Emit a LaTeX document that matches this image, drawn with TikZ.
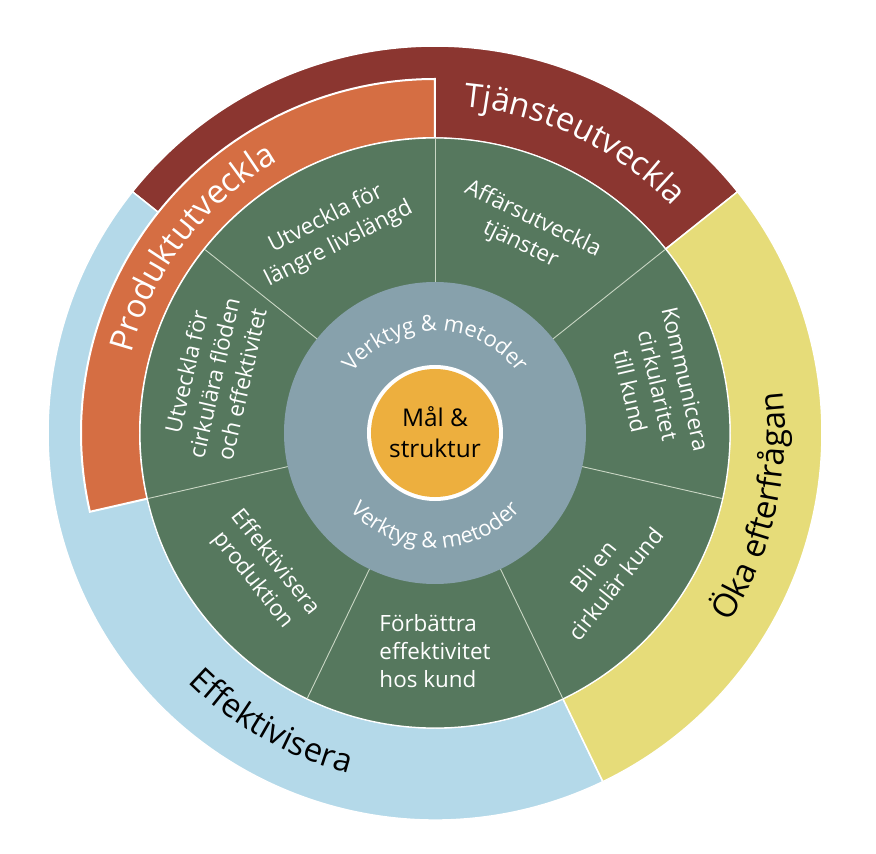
\documentclass[tikz,border=0pt]{standalone}
\usepackage{fontspec}
\setmainfont{Open Sans}
\usetikzlibrary{decorations.text}
\definecolor{cRed}{HTML}{8B3630}
\definecolor{cOrange}{HTML}{D56E43}
\definecolor{cBlue}{HTML}{B4D9E9}
\definecolor{cYellow}{HTML}{E6DC79}
\definecolor{cGreen}{HTML}{56785E}
\definecolor{cGray}{HTML}{87A1AC}
\definecolor{cGold}{HTML}{EDAF3E}
\definecolor{cDiv}{HTML}{C9D6C4}
\newcommand\bigfont{\fontsize{33}{33}\selectfont}
\newcommand\midfont{\fontsize{22}{22}\selectfont}
\begin{document}
\begin{tikzpicture}[x=1bp,y=1bp,
  seg/.style={draw=white, line width=1.5bp},
  seclabel/.style={text=white, align=center, font=\fontsize{22.5}{28.5}\selectfont, inner sep=0pt},
  divider/.style={draw=cDiv, line width=0.9bp}]
\useasboundingbox (-435,-421) rectangle (441,433);
% outer ring
\path[seg, fill=cRed] (38.57:295) arc[start angle=38.57, end angle=141.43, radius=295]
  -- (141.43:387) arc[start angle=141.43, end angle=38.57, radius=387] -- cycle;
\path[seg, fill=cBlue] (141.43:295) arc[start angle=141.43, end angle=295.71, radius=295]
  -- (295.71:387) arc[start angle=295.71, end angle=141.43, radius=387] -- cycle;
\path[seg, fill=cYellow] (-64.29:295) arc[start angle=-64.29, end angle=38.57, radius=295]
  -- (38.57:387) arc[start angle=38.57, end angle=-64.29, radius=387] -- cycle;
\path[draw=white, line width=2bp, fill=cOrange] (90:295) arc[start angle=90, end angle=192.86, radius=295]
  -- (192.86:354) arc[start angle=192.86, end angle=90, radius=354] -- cycle;
% green ring
\fill[cGreen] (0,0) circle[radius=295];
\draw[white, line width=1.2bp] (0,0) circle[radius=295];
\foreach \a in {90,141.43,192.86,244.29,295.71,347.14,38.57}
  \draw[divider] (\a:150) -- (\a:294);
% gray and centre
\fill[cGray] (0,0) circle[radius=151];
\fill[white] (0,0) circle[radius=68];
\fill[cGold] (0,0) circle[radius=64];
\node[align=center, font=\fontsize{24.5}{31}\selectfont, text=black] (mal) at (0,1) {Mål \&\\struktur};
% curved labels
\path[decorate, decoration={text along path, text align=center, text color=white,
  text={|\bigfont|Tjänsteutveckla}}]
  (104.29:328) arc[start angle=104.29, end angle=24.29, radius=328];
\path[decorate, decoration={text along path, text align=center, text color=white,
  text={|\bigfont|Produktutveckla}}]
  (187.6:314) arc[start angle=187.6, end angle=97.6, radius=314];
\path[decorate, decoration={text along path, text align=center, text color=black,
  text={|\bigfont|Öka efterfrågan}}]
  (-58:350) arc[start angle=-58, end angle=32, radius=350];
\path[decorate, decoration={text along path, text align=center, text color=black,
  text={|\bigfont|Effektivisera}}]
  (200:351) arc[start angle=200, end angle=281, radius=351];
\path[decorate, decoration={text along path, text align=center, text color=white,
  text={|\midfont|Verktyg {\&} metoder}}]
  (160:102) arc[start angle=160, end angle=20, radius=102];
\path[decorate, decoration={text along path, text align=center, text color=white,
  text={|\midfont|Verktyg {\&} metoder}}]
  (200:115) arc[start angle=200, end angle=340, radius=115];
% sector labels
\node[seclabel, rotate=27] (s1) at (117:226) {Utveckla för\\längre livslängd};
\node[seclabel, rotate=-25.71] (s2) at (65.5:221) {Affärsutveckla\\tjänster};
\node[seclabel, rotate=-77.14] (s3) at (12.1:228) {Kommunicera\\cirkularitet\\till kund};
\node[seclabel, rotate=51.43] (s4) at (-40:221) {Bli en\\cirkulär kund};
\node[seclabel, align=left] (s5) at (-90:218) {Förbättra\\effektivitet\\hos kund};
\node[seclabel, rotate=-51.43] (s6) at (219:220) {Effektivisera\\produktion};
\node[seclabel, rotate=77.14] (s7) at (166:228) {Utveckla för\\cirkulära flöden\\och effektivitet};
\end{tikzpicture}
\end{document}
